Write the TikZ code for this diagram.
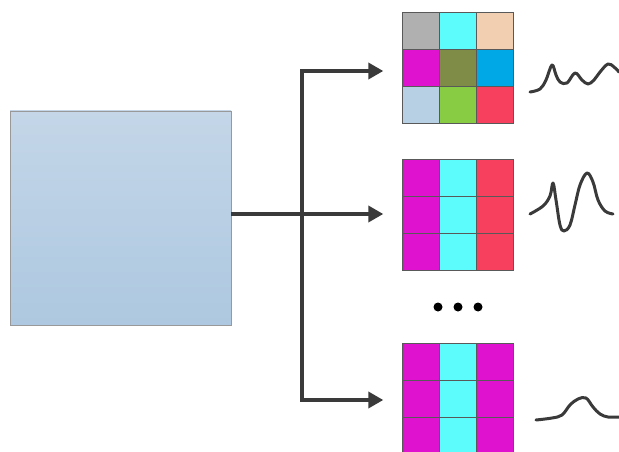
\documentclass[tikz,border=0pt]{standalone}
\usetikzlibrary{arrows.meta}
\definecolor{gA}{HTML}{B0B0B0}
\definecolor{cy}{HTML}{5CFCFC}
\definecolor{pe}{HTML}{F2CFB0}
\definecolor{mg}{HTML}{DF12D0}
\definecolor{ol}{HTML}{7E8C48}
\definecolor{bl}{HTML}{00A8E6}
\definecolor{lb}{HTML}{B8D0E4}
\definecolor{gr}{HTML}{88CC44}
\definecolor{rd}{HTML}{F7405E}
\definecolor{ln}{HTML}{3A3A3A}
\definecolor{boxtop}{HTML}{C4D6E8}
\definecolor{boxbot}{HTML}{ADC8E0}
\tikzset{
  conn/.style={draw=ln, line width=4pt, line join=miter, -{Triangle[length=15pt,width=16pt]}, shorten >=18pt},
  bothconn/.style={draw=ln, line width=4pt, line join=miter, {Triangle[length=15pt,width=16pt]}-{Triangle[length=15pt,width=16pt]}, shorten >=18pt, shorten <=18pt},
  cell/.style={draw=gray!70!black, line width=0.5pt},
  gridbox/.style={draw=none, minimum width=111pt, minimum height=110pt, inner sep=0pt},
  sig/.style={draw=ln, line width=3pt, line cap=round, line join=round},
  dot/.style={circle, fill=black, minimum size=9pt, inner sep=0pt}
}
\newcommand{\gcell}[4]{\fill[#4] (#1,#2) rectangle ++(37,37);\draw[cell] (#1,#2) rectangle ++(37,37);}
\begin{document}
\begin{tikzpicture}[x=1pt,y=-1pt]
\useasboundingbox (0,0) rectangle (619,452);
% big box
\node[draw=gray!80, top color=boxtop, bottom color=boxbot, minimum width=221pt, minimum height=214pt, inner sep=0pt] (src) at (120.5,218) {};
% grids
\node[gridbox] (g1) at (457,67) {};
\node[gridbox] (g2) at (457,214.5) {};
\node[gridbox] (g3) at (457,398) {};
% grid 1
\gcell{402}{12}{}{gA}
\gcell{439}{12}{}{cy}
\gcell{476}{12}{}{pe}
\gcell{402}{49}{}{mg}
\gcell{439}{49}{}{ol}
\gcell{476}{49}{}{bl}
\gcell{402}{86}{}{lb}
\gcell{439}{86}{}{gr}
\gcell{476}{86}{}{rd}
% grid 2
\gcell{402}{159}{}{mg}
\gcell{439}{159}{}{cy}
\gcell{476}{159}{}{rd}
\gcell{402}{196}{}{mg}
\gcell{439}{196}{}{cy}
\gcell{476}{196}{}{rd}
\gcell{402}{233}{}{mg}
\gcell{439}{233}{}{cy}
\gcell{476}{233}{}{rd}
% grid 3
\gcell{402}{343}{}{mg}
\gcell{439}{343}{}{cy}
\gcell{476}{343}{}{mg}
\gcell{402}{380}{}{mg}
\gcell{439}{380}{}{cy}
\gcell{476}{380}{}{mg}
\gcell{402}{417}{}{mg}
\gcell{439}{417}{}{cy}
\gcell{476}{417}{}{mg}
% connectors
\coordinate (jt) at (302,71);
\coordinate (jm) at (302,214);
\coordinate (jb) at (302,400);
\coordinate (src-out) at (231,214);
\draw[bothconn] (g1.west |- jt) -- (jt) -- (jb) -- (g3.west |- jb);
\draw[conn] (src-out) -- (g2.west |- jm);
% dots
\node[dot] (d1) at (438,307) {};
\node[dot] (d2) at (458,307) {};
\node[dot] (d3) at (478,307) {};
% signals
\draw[sig] plot[smooth, tension=0.6] coordinates {(530,92) (540,89) (546,80) (552,65) (556,75) (560,82) (567,83) (575,73) (582,80) (588,84) (594,80) (600,72) (608,64) (614,67) (619,72)};
\draw[sig] plot[smooth, tension=0.6] coordinates {(530,214) (543,206) (550,196) (553,183) (556,200) (560,225) (564,231) (570,225) (575,205) (580,185) (587,173) (593,182) (598,200) (605,211) (613,214)};
\draw[sig] plot[smooth, tension=0.6] coordinates {(536,420) (552,418) (562,415) (570,405) (578,399) (586,398) (593,407) (600,414) (608,417) (619,417)};
\end{tikzpicture}
\end{document}
